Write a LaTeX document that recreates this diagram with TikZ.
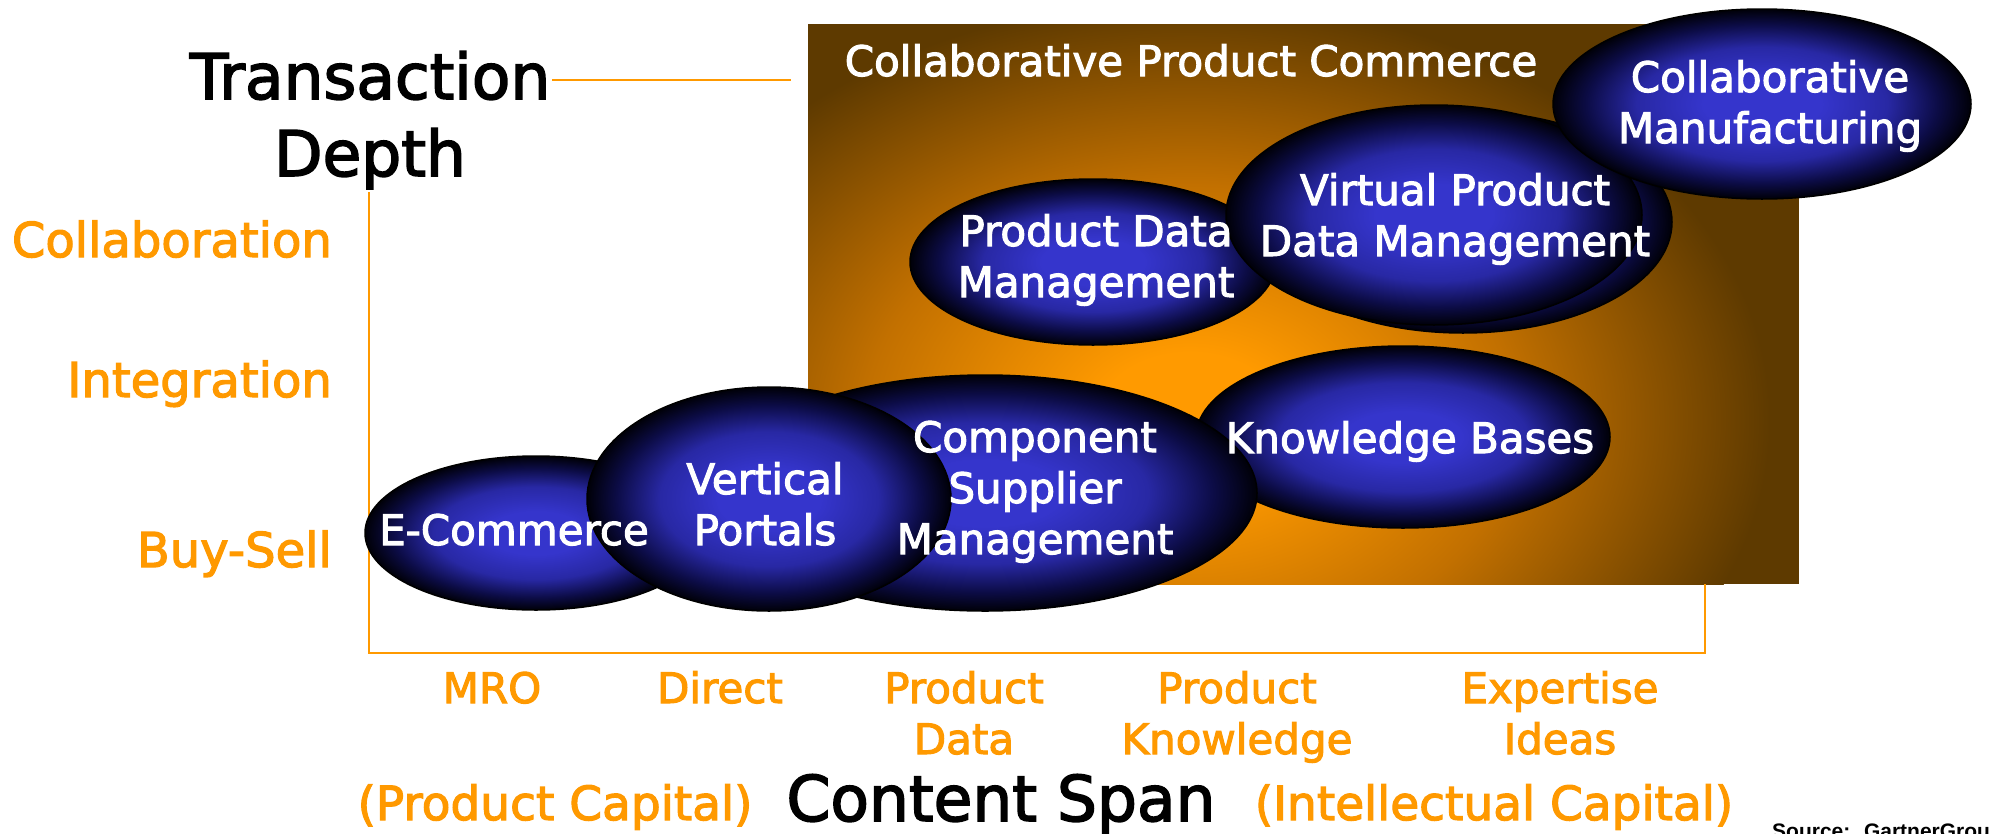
\documentclass[tikz,border=0pt]{standalone}
\usepackage{fontspec}
\setmainfont{DejaVu Sans}[FakeBold=2.5]
\newfontfamily\srcfont{Liberation Sans}
\usetikzlibrary{shapes.geometric}
\definecolor{axisor}{HTML}{FF9900}
\definecolor{boxor}{HTML}{FF9A00}
\definecolor{boxmid}{HTML}{C27000}
\definecolor{boxbr}{HTML}{5E3A00}
\definecolor{ballc}{HTML}{3535CC}
\definecolor{ballm}{HTML}{2828A4}
\definecolor{balld}{HTML}{0C0C46}
\definecolor{balle}{HTML}{000008}
\pgfdeclareradialshading{ballshade}{\pgfpointorigin}{color(0bp)=(ballc); color(7bp)=(ballc); color(15bp)=(ballm); color(21bp)=(balld); color(25bp)=(balle); color(50bp)=(balle)}
\pgfdeclareradialshading{boxglow}{\pgfpointorigin}{color(0bp)=(boxor); color(4bp)=(boxor); color(14bp)=(boxmid); color(25bp)=(boxbr); color(50bp)=(boxbr)}
\newcommand{\stackl}[1]{\begin{tabular}[t]{@{}c@{}}#1\end{tabular}}
\begin{document}
\begin{tikzpicture}[x=1pt,y=-1pt,
  ball/.style={ellipse, draw=black, line width=1.5pt, shade, shading=ballshade, inner sep=0pt},
  axisline/.style={draw=axisor, line width=2.5pt},
  blacklbl/.style={text=black, inner sep=0pt, font=\fontsize{63}{77}\selectfont},
  orlbl/.style={text=axisor, inner sep=0pt, font=\fontsize{48}{58}\selectfont},
  botlbl/.style={text=axisor, inner sep=0pt, font=\fontsize{42}{51}\selectfont},
  caplbl/.style={text=axisor, inner sep=0pt, font=\fontsize{47}{56}\selectfont},
  whitelbl/.style={text=white, inner sep=0pt, font=\fontsize{42}{51}\selectfont}]
\useasboundingbox (0,0) rectangle (1989,833);
\fill[white] (0,0) rectangle (1989,833);

% background box
\coordinate (boxNW) at (808,24);
\coordinate (boxSE) at (1799,584);
\begin{scope}
  \clip (boxNW) rectangle (boxSE);
  \fill[boxbr] (boxNW) rectangle (boxSE);
  \shade[shading=boxglow] (1190,420) ellipse [x radius=580, y radius=420];
\end{scope}

% axes
\coordinate (topA) at (552,80);
\coordinate (topB) at (791,80);
\coordinate (leftTop) at (369,192);
\coordinate (corner1) at (369,653);
\coordinate (corner2) at (1705,653);
\coordinate (rightTop) at (1705,584);
\draw[axisline] (topA) -- (topB);
\draw[axisline] (leftTop) -- (corner1) -- (corner2) -- (rightTop);

% ellipses
\node[ball, minimum width=414pt, minimum height=182pt] (kb) at (1403,437) {};
\node[ball, minimum width=544pt, minimum height=236pt] (csm) at (985,493) {};
\node[ball, minimum width=342pt, minimum height=154pt] (ecom) at (536,533) {};
\node[ball, minimum width=364pt, minimum height=224pt] (vp) at (769,499) {};
\node[ball, minimum width=366pt, minimum height=166pt] (pdm) at (1093,262) {};
\node[ball, minimum width=418pt, minimum height=222pt] (vpdmback) at (1463,222) {};
\node[ball, minimum width=416pt, minimum height=220pt] (vpdm) at (1434,215) {};
\node[ball, minimum width=418pt, minimum height=190pt] (cm) at (1762,104) {};

% labels
\node[blacklbl, anchor=base] (td) at (370,99) {\stackl{Transaction\\Depth}};
\node[orlbl, anchor=base east] (collab) at (332,257) {Collaboration};
\node[orlbl, anchor=base east] (integ) at (332,397) {Integration};
\node[orlbl, anchor=base east] (buysell) at (332,567) {Buy-Sell};

\node[botlbl, anchor=base] (mro) at (492,703) {MRO};
\node[botlbl, anchor=base] (direct) at (720,703) {Direct};
\node[botlbl, anchor=base] (pdata) at (964,703) {\stackl{Product\\Data}};
\node[botlbl, anchor=base] (pknow) at (1237,703) {\stackl{Product\\Knowledge}};
\node[botlbl, anchor=base] (expert) at (1560,703) {\stackl{Expertise\\Ideas}};

\node[caplbl, anchor=base] (pcap) at (555,820) {(Product Capital)};
\node[blacklbl, anchor=base] (cspan) at (1001,821) {Content Span};
\node[caplbl, anchor=base] (icap) at (1494,820) {(Intellectual Capital)};

\node[whitelbl, anchor=base] (cpc) at (1191,76) {Collaborative Product Commerce};
\node[whitelbl, anchor=base] (cmt) at (1770,92) {\stackl{Collaborative\\Manufacturing}};
\node[whitelbl, anchor=base] (vpdmt) at (1455,205) {\stackl{Virtual Product\\Data Management}};
\node[whitelbl, anchor=base] (pdmt) at (1096,246) {\stackl{Product Data\\Management}};
\node[whitelbl, anchor=base] (kbt) at (1410,453) {Knowledge Bases};
\node[whitelbl, anchor=base] (csmt) at (1035,452) {\stackl{Component\\Supplier\\Management}};
\node[whitelbl, anchor=base] (vpt) at (765,494) {\stackl{Vertical\\Portals}};
\node[whitelbl, anchor=base] (ecomt) at (514,545) {E-Commerce};

\node[anchor=base west, inner sep=0pt, font=\srcfont\bfseries\fontsize{21}{25}\selectfont] (src) at (1772,838) {Source:~ GartnerGroup};
\end{tikzpicture}
\end{document}
